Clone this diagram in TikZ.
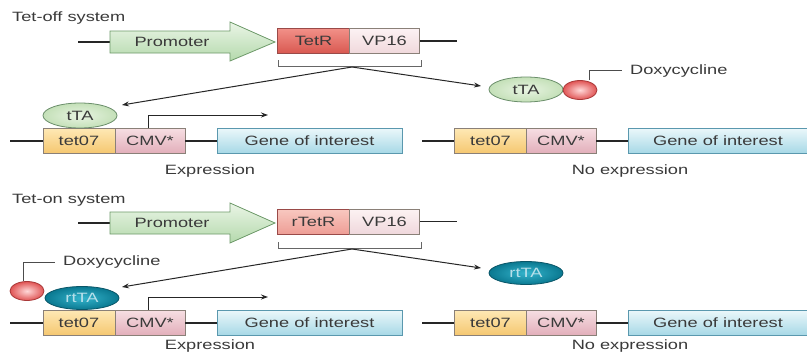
\documentclass[tikz,border=0pt]{standalone}
\usepackage{fontspec}
\setmainfont{Liberation Sans}[FakeStretch=1.35]
\usetikzlibrary{arrows.meta,shapes.geometric}
\definecolor{txt}{HTML}{3A3A3A}
\definecolor{segline}{HTML}{8A8078}
\definecolor{promoA}{HTML}{EAF5E6}\definecolor{promoB}{HTML}{B4D9AC}\definecolor{promoD}{HTML}{6E9A6A}
\definecolor{tetrA}{HTML}{F29088}\definecolor{tetrB}{HTML}{D85850}\definecolor{tetrD}{HTML}{9A4A48}
\definecolor{rtetrA}{HTML}{F8C8C0}\definecolor{rtetrB}{HTML}{EE9E96}
\definecolor{vpA}{HTML}{FCF2F3}\definecolor{vpB}{HTML}{F0D8DC}
\definecolor{tetoA}{HTML}{FEE8B4}\definecolor{tetoB}{HTML}{F5C770}
\definecolor{cmvA}{HTML}{F6DEE2}\definecolor{cmvB}{HTML}{E2AEBA}
\definecolor{geneA}{HTML}{EAF7FA}\definecolor{geneB}{HTML}{A6D8E6}\definecolor{geneD}{HTML}{5A98AE}
\definecolor{ttaA}{HTML}{E8F4E2}\definecolor{ttaB}{HTML}{C4E0B8}\definecolor{ttaD}{HTML}{6A8E6A}
\definecolor{rttaA}{HTML}{34B4CC}\definecolor{rttaB}{HTML}{0A7890}\definecolor{rttaD}{HTML}{0A5668}\definecolor{rttaT}{HTML}{B8E0EA}
\definecolor{doxA}{HTML}{FFD8D8}\definecolor{doxB}{HTML}{E05454}\definecolor{doxD}{HTML}{A83838}
\tikzset{
  dna/.style={line width=1.4pt, draw=black!85},
  thin line/.style={line width=0.8pt, draw=black!70},
  seg/.style={draw=segline, line width=0.8pt, minimum height=25pt, inner sep=0pt, text=txt, font=\fontsize{13.5}{14}\selectfont},
  promo/.style={draw=promoD, line width=0.8pt, top color=promoA, bottom color=promoB},
  lbl/.style={text=txt, font=\fontsize{13.5}{14}\selectfont, inner sep=0pt},
  tetr/.style={seg, minimum width=73pt, top color=tetrA, bottom color=tetrB, draw=tetrD},
  rtetr/.style={seg, minimum width=73pt, top color=rtetrA, bottom color=rtetrB, draw=tetrD},
  vp/.style={seg, minimum width=70pt, top color=vpA, bottom color=vpB},
  teto/.style={seg, minimum width=72pt, top color=tetoA, bottom color=tetoB},
  cmv/.style={seg, minimum width=70pt, top color=cmvA, bottom color=cmvB},
  gene/.style={seg, top color=geneA, bottom color=geneB, draw=geneD},
  tta/.style={ellipse, draw=ttaD, line width=0.8pt, inner color=ttaA, outer color=ttaB, minimum width=74pt, minimum height=25pt, inner sep=0pt, text=txt, font=\fontsize{13.5}{14}\selectfont},
  rtta/.style={ellipse, draw=rttaD, line width=0.8pt, inner color=rttaA, outer color=rttaB, minimum width=74pt, minimum height=23pt, inner sep=0pt, text=rttaT, font=\fontsize{13.5}{14}\selectfont},
  dox/.style={ellipse, draw=doxD, line width=0.8pt, inner color=doxA, outer color=doxB, minimum width=34pt, minimum height=19pt, inner sep=0pt},
  tip/.style={-{Stealth[length=7pt,width=5pt]}, line width=1pt, draw=black!85},
  bracket/.style={line width=0.8pt, draw=black!60},
}
\begin{document}
\begin{tikzpicture}[x=1pt,y=-1pt]
\useasboundingbox (0,0) rectangle (807,356);
\fill[white] (0,0) rectangle (807,356);

% ================= Tet-off =================
\node[lbl, anchor=west] (offtitle) at (12,18) {Tet-off system};
\draw[dna] (78,42) -- (110,42);
\draw[promo] (110,31) -- (230,31) -- (230,22) -- (275,42) -- (230,61) -- (230,53) -- (110,53) -- cycle;
\node[lbl] (prom1) at (172,42) {Promoter};
\node[tetr] (tetr1) at (313.5,41) {TetR};
\node[vp] (vp1) at (384.5,41) {VP16};
\coordinate (vp1end) at (457,41);
\draw[dna] (vp1.east) -- (vp1end);
\draw[bracket] (278,60) -- (278,66) -- (421,66) -- (421,60);
\coordinate (br1) at (352,67);
\coordinate (a1l) at (122,105);
\coordinate (a1r) at (481,86);
\draw[tip] (br1) -- (a1l);
\draw[tip] (br1) -- (a1r);

% left construct (expression)
\coordinate (l1start) at (10,141);
\node[teto] (teto1) at (79,141) {tet07};
\node[cmv] (cmv1) at (150,141) {CMV*};
\node[gene, minimum width=185pt] (gene1) at (309.5,141) {Gene of interest};
\draw[dna] (l1start) -- (teto1.west);
\draw[dna] (cmv1.east) -- (gene1.west);
\node[tta] (tta1) at (80,115.5) {tTA};
\coordinate (tr1a) at (148,128);
\coordinate (tr1b) at (148,115);
\coordinate (tr1c) at (268,115);
\draw[tip] (tr1a) -- (tr1b) -- (tr1c);
\node[lbl] (expr1) at (210,171) {Expression};

% right construct (no expression)
\coordinate (r1start) at (422,141);
\node[teto] (teto2) at (490.5,141) {tet07};
\node[cmv] (cmv2) at (561,141) {CMV*};
\node[gene, minimum width=180pt] (gene2) at (718,141) {Gene of interest};
\draw[dna] (r1start) -- (teto2.west);
\draw[dna] (cmv2.east) -- (gene2.west);
\node[tta] (tta2) at (526,89.5) {tTA};
\node[dox] (dox1) at (580,90) {};
\coordinate (dx1a) at (589,70);
\coordinate (dx1b) at (622,70);
\draw[thin line] ([xshift=9pt]dox1.north) -- (dx1a) -- (dx1b);
\node[lbl, anchor=west] (doxt1) at (630,71) {Doxycycline};
\node[lbl] (noexpr1) at (630,171) {No expression};

% ================= Tet-on =================
\node[lbl, anchor=west] (ontitle) at (12,200) {Tet-on system};
\draw[dna] (78,223) -- (110,223);
\draw[promo] (110,212) -- (230,212) -- (230,203) -- (275,223) -- (230,243) -- (230,234) -- (110,234) -- cycle;
\node[lbl] (prom2) at (172,223) {Promoter};
\node[rtetr] (rtetr2) at (313.5,221.5) {rTetR};
\node[vp] (vp2) at (384.5,221.5) {VP16};
\coordinate (vp2end) at (457,221.5);
\draw[dna] (vp2.east) -- (vp2end);
\draw[bracket] (278,242) -- (278,248) -- (421,248) -- (421,242);
\coordinate (br2) at (352,249);
\coordinate (a2l) at (122,287);
\coordinate (a2r) at (481,268);
\draw[tip] (br2) -- (a2l);
\draw[tip] (br2) -- (a2r);

% left construct (expression)
\coordinate (l2start) at (10,323);
\node[teto] (teto3) at (79,323) {tet07};
\node[cmv] (cmv3) at (150,323) {CMV*};
\node[gene, minimum width=185pt] (gene3) at (309.5,323) {Gene of interest};
\draw[dna] (l2start) -- (teto3.west);
\draw[dna] (cmv3.east) -- (gene3.west);
\coordinate (tr2a) at (148,310);
\coordinate (tr2b) at (148,297);
\coordinate (tr2c) at (268,297);
\draw[tip] (tr2a) -- (tr2b) -- (tr2c);
\node[dox] (dox2) at (27,291) {};
\node[rtta] (rtta1) at (82,298) {rtTA};
\coordinate (dx2a) at (23,262);
\coordinate (dx2b) at (55,262);
\draw[thin line] ([xshift=-4pt]dox2.north) -- (dx2a) -- (dx2b);
\node[lbl, anchor=west] (doxt2) at (63,262) {Doxycycline};
\node[lbl] (expr2) at (210,346) {Expression};

% right construct (no expression)
\coordinate (r2start) at (422,323);
\node[teto] (teto4) at (490.5,323) {tet07};
\node[cmv] (cmv4) at (561,323) {CMV*};
\node[gene, minimum width=180pt] (gene4) at (718,323) {Gene of interest};
\draw[dna] (r2start) -- (teto4.west);
\draw[dna] (cmv4.east) -- (gene4.west);
\node[rtta] (rtta2) at (526,273) {rtTA};
\node[lbl] (noexpr2) at (630,346) {No expression};
\end{tikzpicture}
\end{document}
